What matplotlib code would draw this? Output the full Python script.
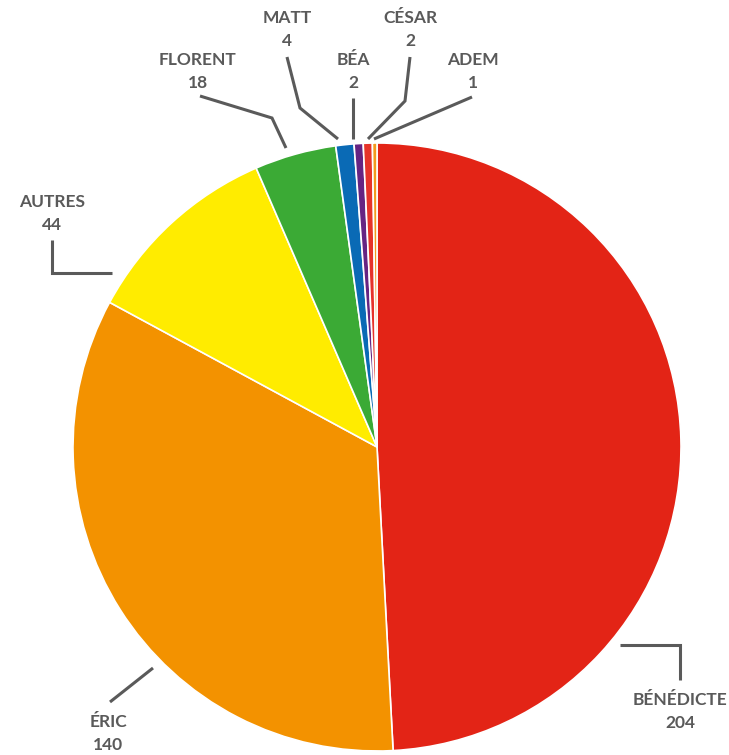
import matplotlib
matplotlib.use("Agg")
import matplotlib.pyplot as plt

# data
names = ["BÉNÉDICTE", "ÉRIC", "AUTRES", "FLORENT", "MATT", "BÉA", "CÉSAR", "ADEM"]
values = [204, 140, 44, 18, 4, 2, 2, 1]
colors = ["#E32416", "#F39200", "#FFEC00", "#3BAA35", "#0A6AB5", "#662483", "#E6332A", "#F39A1E"]

W, H = 729, 755
fig = plt.figure(figsize=(W / 100, H / 100), dpi=100)
ax = fig.add_axes([0, 0, 1, 1])

cx, cy, r = 377, H - 447, 304
ax.pie(values, colors=colors, startangle=90, counterclock=False,
       center=(cx, cy), radius=r, frame=True,
       wedgeprops=dict(edgecolor="white", linewidth=1.2))
ax.set_xlim(0, W)
ax.set_ylim(0, H)
ax.set_aspect("equal")
ax.axis("off")

# leader lines (pixel coords, y down) and label anchor
leaders = [
    ([(620, 645), (680, 645), (680, 680)], (680, 700)),
    ([(153, 668), (110, 702)], (108, 722)),
    ([(112, 273), (52, 273), (52, 240)], (52, 202)),
    ([(200, 96), (272, 118), (286, 148)], (198, 60)),
    ([(287, 57), (300, 108), (338, 139)], (287, 18)),
    ([(353, 98), (353, 139)], (353, 60)),
    ([(410, 57), (405, 101), (368, 139)], (410, 18)),
    ([(472, 97), (374, 139)], (473, 60)),
]
grey = "#5a5a5a"
for (pts, (tx, ty)), name, v in zip(leaders, names, values):
    xs = [p[0] for p in pts]
    ys = [H - p[1] for p in pts]
    ax.plot(xs, ys, color=grey, lw=2.2, solid_capstyle="butt", solid_joinstyle="miter")
    ax.text(tx, H - ty, name, ha="center", va="center", fontsize=12.5,
            fontweight="bold", color=grey, family="Lato")
    ax.text(tx, H - ty - 23, str(v), ha="center", va="center", fontsize=12.5,
            fontweight="bold", color=grey, family="Lato")

fig.savefig("out.png", dpi=100, facecolor="white")
